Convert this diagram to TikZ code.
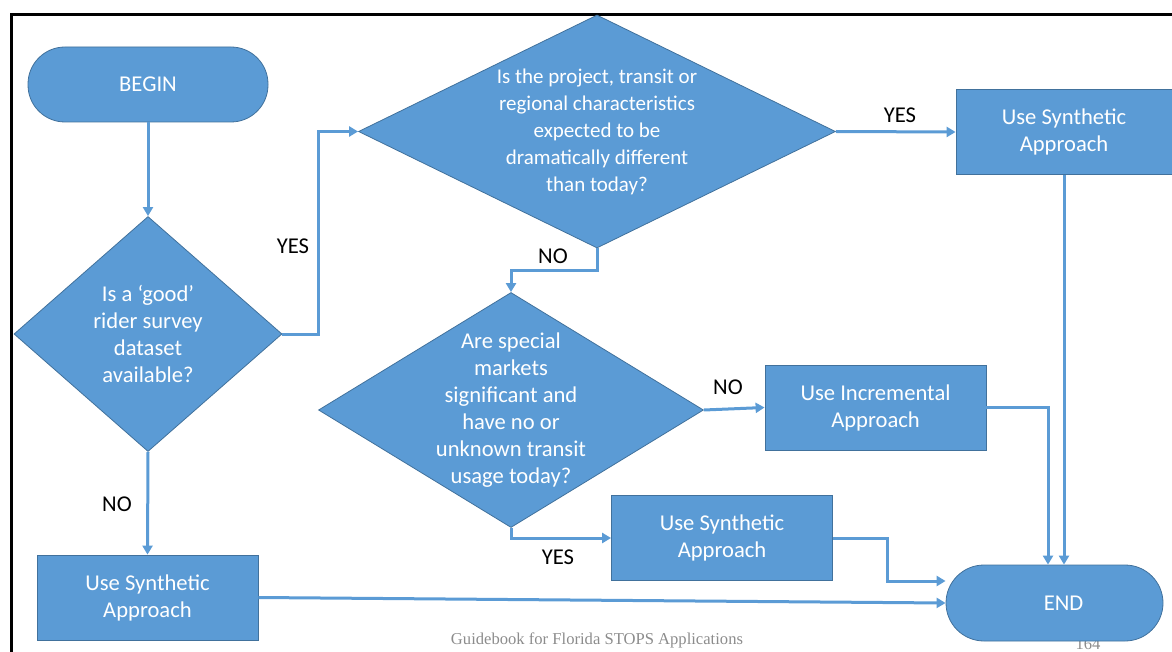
\documentclass[tikz,border=0pt]{standalone}
\usepackage{fontspec}
\setmainfont{Carlito}
\newfontfamily\footfont{Liberation Serif}
\usetikzlibrary{shapes.geometric,arrows.meta}
\definecolor{fcblue}{HTML}{5B9BD5}
\definecolor{fcedge}{HTML}{41719C}
\definecolor{fcgray}{HTML}{8C8C8C}

\begin{document}
\begin{tikzpicture}[x=1pt, y=-1pt, font=\fontsize{22.6}{27}\selectfont,
  terminal/.style={draw=fcedge, fill=fcblue, text=white, rounded corners=37pt,
                   minimum width=240pt, minimum height=75pt, line width=0.8pt},
  decision/.style={diamond, draw=fcedge, fill=fcblue, text=white, align=center,
                   inner sep=-4pt, line width=0.8pt},
  action/.style={draw=fcedge, fill=fcblue, text=white, align=center,
                 minimum width=221pt, minimum height=85pt, line width=0.8pt},
  answer/.style={text=black},
  flow/.style={-{Triangle[length=9pt,width=10pt]}, draw=fcblue, line width=3pt}]
  \useasboundingbox (0,0) rectangle (1172,652);
  \draw[line width=3pt] (11.5,652) -- (11.5,14.5) -- (1172,14.5);
  % page footer
  \node[text=fcgray, font=\footfont\fontsize{16.6}{18}\selectfont] (footer) at (597,640)
    {Guidebook for Florida STOPS Applications};
  \node[text=fcgray, font=\footfont\fontsize{16.6}{18}\selectfont] (pageno) at (1088,644) {164};
  % shapes
  \node[terminal] (begin) at (148,84.5) {BEGIN};
  \node[decision, aspect=1.14, minimum width=268pt, minimum height=235pt] (survey) at (148,334)
    {Is a `good'\\ rider survey\\ dataset\\ available?};
  \node[decision, aspect=2.05, minimum width=477pt, minimum height=233pt,
        font=\fontsize{21}{27}\selectfont] (change) at (597,131.5)
    {Is the project, transit or\\ regional characteristics\\ expected to be\\
     dramatically different\\ than today?};
  \node[decision, aspect=1.64, minimum width=385pt, minimum height=235pt] (markets) at (511,410)
    {Are special\\ markets\\ significant and\\ have no or\\ unknown transit\\ usage today?};
  \node[action, minimum width=216pt] (synA) at (1064,132) {Use Synthetic\\ Approach};
  \node[action] (incr) at (875.5,407.5) {Use Incremental\\ Approach};
  \node[action] (synB) at (722,538) {Use Synthetic\\ Approach};
  \node[action] (synC) at (147.5,597.5) {Use Synthetic\\ Approach};
  \node[terminal, minimum width=217pt, minimum height=76pt, rounded corners=38pt] (end) at (1054.5,603)
    {\hspace*{18pt}END};
  % connectors
  \draw[flow] (begin) -- (survey);
  \draw[flow] (survey.east) -- ++(36,0) |- (change.west);
  \draw[flow] (change.east) -- (synA.west);
  \draw[flow] (change.south) -- ++(0,22) -| (markets.north);
  \draw[flow] (markets.east) -- (incr.west);
  \draw[flow] (markets.south) |- (synB.west);
  \draw[flow] (survey.south) -- (synC.north);
  \draw[flow] (synA.south) -- (synA.south |- end.north);
  \draw[flow] (incr.east) -| ([xshift=-6.5pt]end.north);
  \draw[flow] (synB.east) -- ++(55,0) |- ([yshift=22pt]end.west);
  \draw[flow] (synC.east) -- (end.west);
  % answers
  \node[answer] (yes1) at (293,246) {YES};
  \node[answer] (yes2) at (900,115) {YES};
  \node[answer] (no1) at (553,256) {NO};
  \node[answer] (no2) at (728,387) {NO};
  \node[answer] (yes3) at (558,557) {YES};
  \node[answer] (no3) at (117,504) {NO};
\end{tikzpicture}
\end{document}
